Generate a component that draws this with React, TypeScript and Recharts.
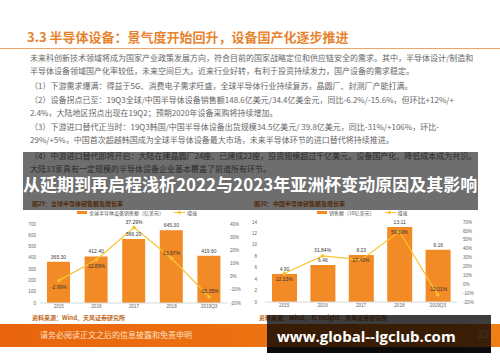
import React from 'react';
import { ComposedChart, Bar, Line, XAxis, YAxis, LabelList } from 'recharts';

// years shared by both charts
const years = ['2015', '2016', '2017', '2018', '2019Q3'];

// 图29 global semiconductor equipment sales (亿美元) and growth (%)
const globalSales = [365.3, 412.4, 566.2, 645.3, 419.6];
const globalGrowth = [-2.99, 12.89, 37.29, 13.97, -15.35];
const globalSalesTicks = [0, 100, 200, 300, 400, 500, 600, 700];
const globalGrowthTicks = [-20, -10, 0, 10, 20, 30, 40];

// 图30 China semiconductor sales (10亿美元) and growth (%)
const chinaSales = [4.9, 6.46, 8.23, 13.11, 9.16];
const chinaGrowth = [12.13, 31.84, 27.4, 59.3, -12.01];
const chinaSalesTicks = [0, 2, 4, 6, 8, 10, 12, 14];
const chinaGrowthTicks = [-20, -10, 0, 10, 20, 30, 40, 50, 60, 70];

const bodyLines = [
  '未来科创新技术领域将成为国家产业政策发展方向，符合目前的国家战略定位和供应链安全的需求。其中，半导体设计/制造和',
  '半导体设备领域国产化率较低，未来空间巨大。近来行业好转，有利于投资持续发力，国产设备的需求稳定。',
  '（1）下游需求爆满：得益于5G、消费电子需求旺盛，全球半导体行业持续复苏，晶圆厂、封测厂产能打满。',
  '（2）设备拐点已至：19Q3全球/中国半导体设备销售额148.6亿美元/34.4亿美金元，同比-6.2%/-15.6%，但环比+12%/+',
  '2.4%，大陆地区拐点出现在19Q2；预期2020年设备采购将持续增加。',
  '（3）下游进口替代正当时：19Q3韩国/中国半导体设备出货规模34.5亿美元/ 39.8亿美元，同比-31%/+106%，环比-',
  '29%/+5%，中国首次超越韩国成为全球半导体设备最大市场，未来半导体环节的进口替代将持续推进。',
  '（4）中游进口替代即将开启：大陆在建晶圆厂24座、已建成22座，投资规模超过千亿美元。设备国产化、降低成本成为共识。',
  '大陆33家具有一定规模的半导体设备企业基本覆盖了前道所有环节。',
];
const bodyLineY = [58, 71, 86, 100, 113, 127, 140, 156, 169];

const ORANGE = '#f28a25';
const YELLOW = '#f9c430';
const CJK = '"Noto Sans CJK SC", "Noto Sans", sans-serif';
const NUM = '"Liberation Sans", Arial, sans-serif';

type Place = 'above' | 'below' | 'center';
const globalLabelPlace: Place[] = ['below', 'below', 'above', 'above', 'above'];
const chinaLabelPlace: Place[] = ['below', 'above', 'center', 'center', 'above'];

const Diamond = (props: any) => {
  const { cx, cy } = props;
  if (cx == null || cy == null) return null;
  const r = 2.2;
  return <path d={`M${cx},${cy - r}L${cx + r},${cy}L${cx},${cy + r}L${cx - r},${cy}Z`} fill={YELLOW} />;
};

const growthLabel = (place: Place[]) => (props: any) => {
  const { x, y, value, index } = props;
  const p = place[index];
  const dy = p === 'above' ? -3.5 : p === 'below' ? 8 : 2;
  return (
    <text x={x} y={y + dy} textAnchor="middle" fontSize={5} fill="#333" fontFamily={NUM}>
      {Number(value).toFixed(2)}%
    </text>
  );
};

const tickStyle = { fontSize: 4.6, fill: '#666', fontFamily: NUM };

function SalesChart(props: {
  sales: number[];
  growth: number[];
  salesTicks: number[];
  growthTicks: number[];
  place: Place[];
  margin: any;
  leftW: number;
  rightW: number;
  leftGap: number;
  rightGap: number;
  xH: number;
  barSize: number;
}) {
  const data = years.map((year, i) => ({ year, sales: props.sales[i], growth: props.growth[i] }));
  const st = props.salesTicks;
  const gt = props.growthTicks;
  return (
    <ComposedChart width={250} height={115} data={data} margin={props.margin}>
      <XAxis
        dataKey="year"
        height={props.xH}
        tickLine={false}
        tickSize={0}
        tickMargin={2}
        axisLine={{ stroke: '#d9d9d9' }}
        tick={tickStyle}
        interval={0}
      />
      <YAxis
        yAxisId="l"
        width={props.leftW}
        domain={[st[0], st[st.length - 1]]}
        ticks={st}
        axisLine={false}
        tickLine={false}
        tickSize={0}
        tickMargin={props.leftGap}
        tick={tickStyle}
        interval={0}
      />
      <YAxis
        yAxisId="r"
        orientation="right"
        width={props.rightW}
        domain={[gt[0], gt[gt.length - 1]]}
        ticks={gt}
        axisLine={false}
        tickLine={false}
        tickSize={0}
        tickMargin={props.rightGap}
        tick={tickStyle}
        tickFormatter={(v) => `${v}%`}
        interval={0}
      />
      <Bar yAxisId="l" dataKey="sales" fill={ORANGE} barSize={props.barSize} isAnimationActive={false}>
        <LabelList
          dataKey="sales"
          position="top"
          offset={3}
          fontSize={5}
          fill="#404040"
          fontFamily={NUM}
          formatter={(v: any) => Number(v).toFixed(2)}
        />
      </Bar>
      <Line
        yAxisId="r"
        dataKey="growth"
        stroke={YELLOW}
        strokeWidth={1.2}
        dot={<Diamond />}
        activeDot={false}
        isAnimationActive={false}
      >
        <LabelList dataKey="growth" content={growthLabel(props.place)} />
      </Line>
    </ComposedChart>
  );
}

function Legend(props: { left: number; text: string; gap: number }) {
  return (
    <div
      style={{
        position: 'absolute',
        left: props.left,
        top: 208,
        height: 8,
        display: 'flex',
        alignItems: 'center',
        fontFamily: CJK,
        fontSize: 5,
        color: '#555',
        whiteSpace: 'nowrap',
      }}
    >
      <div style={{ width: 10, height: 3, background: ORANGE, marginRight: 2 }} />
      <span>{props.text}</span>
      <div style={{ position: 'relative', width: 11, height: 8, marginLeft: props.gap, marginRight: 2 }}>
        <div style={{ position: 'absolute', left: 0, top: 3.5, width: 11, height: 1, background: YELLOW }} />
        <div
          style={{
            position: 'absolute',
            left: 3.5,
            top: 2.5,
            width: 3,
            height: 3,
            background: YELLOW,
            transform: 'rotate(45deg)',
          }}
        />
      </div>
      <span>增速</span>
    </div>
  );
}

export default function App() {
  const abs = (left: number, top: number, extra: any = {}) => ({ position: 'absolute' as const, left, top, ...extra });
  return (
    <div style={{ position: 'absolute', left: 0, top: 0, width: 500, height: 362, overflow: 'hidden', background: '#fff' }}>
      {/* heading */}
      <div
        style={abs(27, 28, {
          fontFamily: CJK,
          fontSize: 13,
          fontWeight: 700,
          color: '#e8842f',
          lineHeight: '18px',
          whiteSpace: 'nowrap',
        })}
      >
        3.3 半导体设备：景气度开始回升，设备国产化逐步推进
      </div>
      <div style={abs(0, 47.5, { width: 500, height: 1, background: '#f0a468' })} />

      {/* body text */}
      {bodyLines.map((t, i) => (
        <div
          key={i}
          style={abs(30, bodyLineY[i] - 6, {
            fontFamily: CJK,
            fontSize: 8,
            lineHeight: '12px',
            color: '#666',
            whiteSpace: 'nowrap',
          })}
        >
          {t}
        </div>
      ))}

      {/* chart titles */}
      <div style={abs(32, 200, { fontFamily: CJK, fontSize: 6, fontWeight: 700, color: '#c0661a', lineHeight: '8px', whiteSpace: 'nowrap' })}>
        图29：全球半导体销售额及增长率
      </div>
      <div style={abs(254, 200, { fontFamily: CJK, fontSize: 6, fontWeight: 700, color: '#c0661a', lineHeight: '8px', whiteSpace: 'nowrap' })}>
        图30：中国半导体销售额及增长率
      </div>

      <Legend left={77} text="全球半导体设备销售额（亿美元）" gap={10} />
      <Legend left={317} text="销售额（10亿美元）" gap={10} />

      <div style={abs(0, 200)}>
        <SalesChart
          sales={globalSales}
          growth={globalGrowth}
          salesTicks={globalSalesTicks}
          growthTicks={globalGrowthTicks}
          place={globalLabelPlace}
          margin={{ top: 24, right: 0, bottom: 0, left: 0 }}
          leftW={40}
          rightW={22}
          leftGap={4}
          rightGap={2}
          xH={12}
          barSize={23}
        />
      </div>
      <div style={abs(250, 200)}>
        <SalesChart
          sales={chinaSales}
          growth={chinaGrowth}
          salesTicks={chinaSalesTicks}
          growthTicks={chinaGrowthTicks}
          place={chinaLabelPlace}
          margin={{ top: 22, right: 23, bottom: 0, left: 0 }}
          leftW={15}
          rightW={20}
          leftGap={8}
          rightGap={6}
          xH={13}
          barSize={25}
        />
      </div>

      {/* sources */}
      <div style={abs(32, 314, { fontFamily: CJK, fontSize: 6, fontWeight: 700, color: '#c0661a', lineHeight: '8px', whiteSpace: 'nowrap' })}>
        资料来源：Wind、天风证券研究所
      </div>
      <div style={abs(259, 314, { fontFamily: CJK, fontSize: 6, fontWeight: 700, color: '#c0661a', lineHeight: '8px', whiteSpace: 'nowrap' })}>
        资料来源：Wind、 IC Insight、天风证券研究所
      </div>

      {/* footer */}
      <div style={abs(0, 324, { width: 500, height: 23, background: 'linear-gradient(90deg, #e8640c, #f07f16)' })} />
      <div style={abs(40, 329, { fontFamily: CJK, fontSize: 8, color: '#fde0c8', lineHeight: '12px', whiteSpace: 'nowrap' })}>
        请务必阅读正文之后的信息披露和免责申明
      </div>
      <div style={abs(478, 329, { fontFamily: NUM, fontSize: 10, color: '#fcd3b0', lineHeight: '12px' })}>23</div>

      {/* title overlay */}
      <div style={abs(23, 152, { width: 455, height: 58, background: 'rgba(0,0,0,0.57)' })} />
      <div
        style={abs(23, 173, {
          fontFamily: CJK,
          fontSize: 17,
          fontWeight: 700,
          color: '#fff',
          lineHeight: '22px',
          whiteSpace: 'nowrap',
        })}
      >
        从延期到再启程浅析2022与2023年亚洲杯变动原因及其影响
      </div>

      {/* watermark */}
      <div style={abs(267, 315, { width: 224, height: 32, background: 'rgba(0,0,0,0.76)' })} />
      <div style={abs(267, 347, { width: 224, height: 6, background: '#0b0b0b' })} />
      <div
        style={abs(277, 326, {
          fontFamily: '"Open Sans", "DejaVu Sans", sans-serif',
          fontSize: 15,
          fontWeight: 700,
          color: '#fff',
          lineHeight: '20px',
          whiteSpace: 'nowrap',
        })}
      >
        www.global--lgclub.com
      </div>
    </div>
  );
}
